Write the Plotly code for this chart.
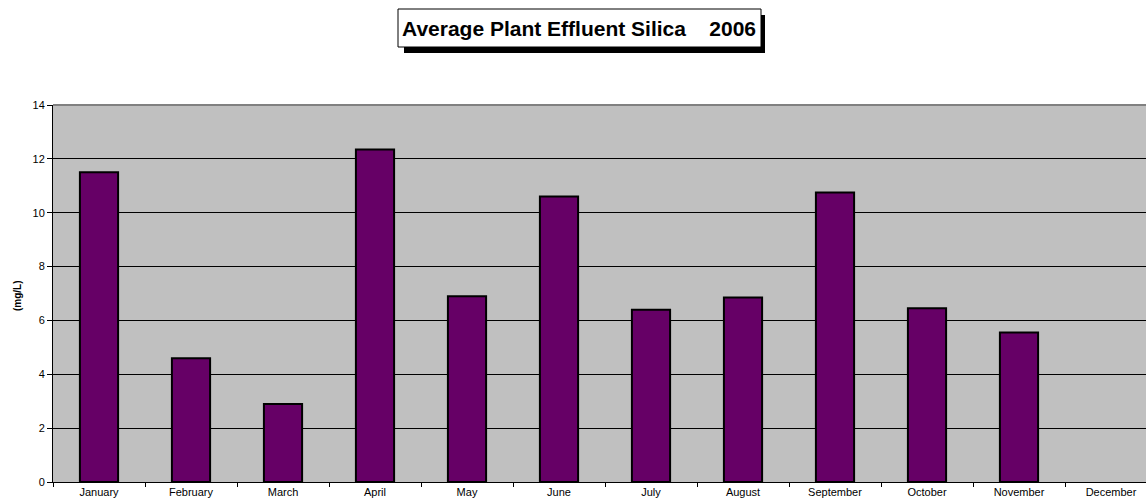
import plotly.graph_objects as go

# Monthly averages of plant effluent silica, 2006 (mg/L); December not reported
months = ["January", "February", "March", "April", "May", "June",
          "July", "August", "September", "October", "November", "December"]
silica = [11.5, 4.6, 2.9, 12.35, 6.9, 10.6, 6.4, 6.85, 10.75, 6.45, 5.55, None]

y_ticks = [0, 2, 4, 6, 8, 10, 12, 14]
chart_title = "Average Plant Effluent Silica&nbsp;&nbsp;&nbsp;&nbsp;2006"
y_title = "(mg/L)"

W, H = 1146, 504
ML, MR, MT, MB = 53, 0, 105, 22
PW, PH = W - ML - MR, H - MT - MB
CAT_PX = 92  # pixel width of one month slot

FONT = "Arial, Liberation Sans, sans-serif"


def px_x(px):
    return (px - ML) / PW


def px_y(py):
    return (H - MB - py) / PH


fig = go.Figure(
    go.Bar(
        x=months,
        y=silica,
        marker=dict(color="#660066", line=dict(color="black", width=2)),
        hoverinfo="x+y",
    )
)

shapes = [
    # drop shadow and framed box behind the title
    dict(type="rect", xref="paper", yref="paper",
         x0=px_x(404), x1=px_x(765), y0=px_y(53), y1=px_y(15),
         fillcolor="black", line=dict(width=0), layer="above"),
    dict(type="rect", xref="paper", yref="paper",
         x0=px_x(398), x1=px_x(761), y0=px_y(47), y1=px_y(9),
         fillcolor="white", line=dict(color="black", width=1), layer="above"),
    # grey border along the top of the plot area
    dict(type="line", xref="paper", yref="paper",
         x0=0, x1=1, y0=1, y1=1, line=dict(color="#808080", width=2)),
]

annotations = [
    dict(text="<b>" + chart_title + "</b>", xref="paper", yref="paper",
         x=px_x(578.5), y=px_y(28.5), xanchor="center", yanchor="middle",
         showarrow=False, font=dict(family=FONT, size=21, color="black")),
    dict(text="<b>" + y_title + "</b>", xref="paper", yref="paper",
         x=px_x(17), y=px_y(296), xanchor="center", yanchor="middle",
         textangle=-90, showarrow=False,
         font=dict(family=FONT, size=10, color="black")),
]

fig.update_layout(
    width=W, height=H,
    margin=dict(l=ML, r=MR, t=MT, b=MB, pad=0),
    paper_bgcolor="white",
    plot_bgcolor="#C0C0C0",
    bargap=0.585,
    showlegend=False,
    font=dict(family=FONT, size=11, color="black"),
    shapes=shapes,
    annotations=annotations,
    xaxis=dict(
        range=[-0.5, -0.5 + PW / CAT_PX],
        showgrid=False, zeroline=False,
        showline=True, linecolor="black", linewidth=1,
        ticks="outside", tickson="boundaries", ticklen=4,
        tickcolor="black", tickwidth=1,
        tickfont=dict(family=FONT, size=11, color="black"),
        fixedrange=True,
    ),
    yaxis=dict(
        range=[0, 14], tickvals=y_ticks,
        showgrid=True, gridcolor="black", gridwidth=1,
        zeroline=False,
        showline=True, linecolor="black", linewidth=1,
        ticks="outside", ticklen=5, tickcolor="black", tickwidth=1,
        tickfont=dict(family=FONT, size=11, color="black"),
        fixedrange=True,
    ),
)

fig.write_html("out.html")
